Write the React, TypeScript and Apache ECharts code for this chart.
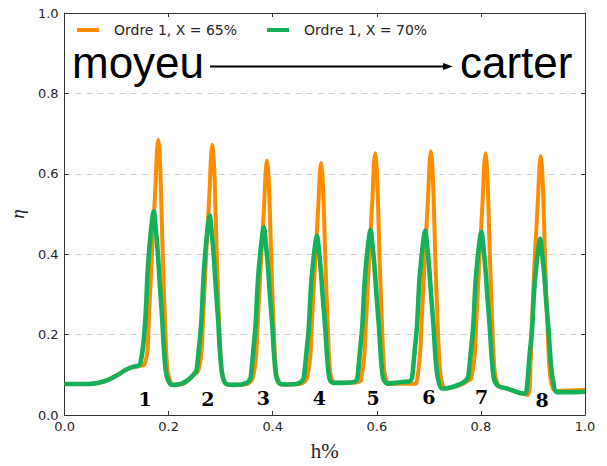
import React, { useEffect, useRef } from "react";
import * as echarts from "echarts";

const seriesNames = ["Ordre 1, X = 65%", "Ordre 1, X = 70%"];
const seriesColors = ["#ff8c00", "#17b05a"];

const orange65: number[][] = [
  [0, 0.077], [0.02, 0.077], [0.047, 0.077], [0.065, 0.08], [0.085, 0.088], [0.1, 0.098], [0.117, 0.112], [0.13, 0.119], [0.143, 0.122],
  [0.1523, 0.124], [0.159, 0.158], [0.162, 0.24], [0.1683, 0.41], [0.1746, 0.57], [0.1775, 0.655], [0.18, 0.685], [0.1825, 0.655], [0.185, 0.57], [0.1883, 0.41], [0.1928, 0.24], [0.1973, 0.118], [0.2036, 0.082], [0.21, 0.075],
  [0.22, 0.076], [0.232, 0.08], [0.242, 0.092], [0.25, 0.103],
  [0.2563, 0.108], [0.263, 0.155], [0.266, 0.235], [0.2723, 0.403], [0.2786, 0.558], [0.2815, 0.645], [0.284, 0.672], [0.2865, 0.64], [0.289, 0.558], [0.2923, 0.403], [0.2968, 0.235], [0.3013, 0.115], [0.3076, 0.082], [0.314, 0.076],
  [0.33, 0.075], [0.345, 0.076], [0.355, 0.08],
  [0.3613, 0.09], [0.368, 0.146], [0.371, 0.222], [0.3773, 0.38], [0.3836, 0.525], [0.3865, 0.608], [0.389, 0.633], [0.3915, 0.602], [0.394, 0.525], [0.3973, 0.38], [0.4018, 0.222], [0.4063, 0.108], [0.4126, 0.08], [0.419, 0.076],
  [0.435, 0.076], [0.45, 0.077], [0.458, 0.08],
  [0.4653, 0.09], [0.472, 0.144], [0.475, 0.22], [0.4813, 0.376], [0.4876, 0.52], [0.4905, 0.602], [0.493, 0.627], [0.4955, 0.596], [0.498, 0.52], [0.5013, 0.376], [0.5058, 0.22], [0.5103, 0.107], [0.5166, 0.082], [0.523, 0.08],
  [0.54, 0.08], [0.555, 0.081], [0.565, 0.082],
  [0.5693, 0.086], [0.576, 0.15], [0.579, 0.228], [0.5853, 0.39], [0.5916, 0.54], [0.5945, 0.625], [0.597, 0.651], [0.5995, 0.618], [0.602, 0.54], [0.6053, 0.39], [0.6098, 0.228], [0.6143, 0.11], [0.6206, 0.08], [0.627, 0.077],
  [0.645, 0.078], [0.66, 0.078], [0.672, 0.078],
  [0.6763, 0.08], [0.683, 0.15], [0.686, 0.23], [0.6923, 0.394], [0.6986, 0.545], [0.7015, 0.63], [0.704, 0.656], [0.7065, 0.623], [0.709, 0.545], [0.7123, 0.394], [0.7168, 0.23], [0.7213, 0.11], [0.7276, 0.07], [0.734, 0.066],
  [0.75, 0.07], [0.765, 0.077], [0.775, 0.085],
  [0.7813, 0.09], [0.788, 0.15], [0.791, 0.228], [0.7973, 0.39], [0.8036, 0.54], [0.8065, 0.625], [0.809, 0.651], [0.8115, 0.618], [0.814, 0.54], [0.8173, 0.39], [0.8218, 0.228], [0.8263, 0.11], [0.8326, 0.075], [0.84, 0.069],
  [0.86, 0.062], [0.875, 0.055], [0.8905, 0.05],
  [0.8955, 0.13], [0.898, 0.225], [0.9033, 0.386], [0.9096, 0.535], [0.9125, 0.618], [0.915, 0.644], [0.9175, 0.612], [0.92, 0.535], [0.9233, 0.386], [0.9278, 0.225], [0.9323, 0.108], [0.9386, 0.065], [0.945, 0.06],
  [0.97, 0.061], [1.0, 0.063],
];

const green70: number[][] = [
  [0, 0.077], [0.02, 0.077], [0.047, 0.077], [0.065, 0.08], [0.085, 0.088], [0.1, 0.098], [0.117, 0.112], [0.13, 0.119], [0.1428, 0.123],
  [0.146, 0.13], [0.151, 0.172], [0.1555, 0.243], [0.16, 0.365], [0.165, 0.446], [0.1694, 0.497], [0.1714, 0.507], [0.1746, 0.472], [0.179, 0.406], [0.183, 0.325], [0.1874, 0.243], [0.191, 0.162], [0.1956, 0.101], [0.2034, 0.077],
  [0.212, 0.075], [0.225, 0.078], [0.238, 0.088], [0.2504, 0.104],
  [0.2536, 0.112], [0.2585, 0.169], [0.2631, 0.238], [0.2676, 0.357], [0.2726, 0.436], [0.277, 0.486], [0.279, 0.496], [0.2822, 0.461], [0.2866, 0.397], [0.2906, 0.317], [0.295, 0.238], [0.2986, 0.159], [0.3032, 0.099], [0.311, 0.077],
  [0.325, 0.075], [0.34, 0.076], [0.35, 0.08], [0.3544, 0.085],
  [0.3576, 0.093], [0.3625, 0.158], [0.3671, 0.224], [0.3716, 0.336], [0.3766, 0.41], [0.381, 0.457], [0.383, 0.466], [0.3862, 0.433], [0.3906, 0.373], [0.3946, 0.298], [0.399, 0.224], [0.4026, 0.149], [0.4072, 0.093], [0.415, 0.077],
  [0.43, 0.076], [0.445, 0.077], [0.452, 0.08], [0.4564, 0.085],
  [0.4596, 0.092], [0.4645, 0.152], [0.4691, 0.214], [0.4736, 0.321], [0.4786, 0.392], [0.483, 0.437], [0.485, 0.446], [0.4882, 0.415], [0.4926, 0.357], [0.4966, 0.285], [0.501, 0.214], [0.5046, 0.143], [0.5092, 0.089], [0.517, 0.08],
  [0.535, 0.08], [0.55, 0.081], [0.556, 0.082], [0.5594, 0.084],
  [0.5626, 0.091], [0.5675, 0.156], [0.5721, 0.221], [0.5766, 0.331], [0.5816, 0.405], [0.586, 0.451], [0.588, 0.46], [0.5912, 0.428], [0.5956, 0.368], [0.5996, 0.294], [0.604, 0.221], [0.6076, 0.147], [0.6122, 0.092], [0.62, 0.078],
  [0.635, 0.08], [0.65, 0.082], [0.66, 0.083], [0.6644, 0.085],
  [0.6676, 0.092], [0.6725, 0.156], [0.6771, 0.22], [0.6816, 0.33], [0.6866, 0.403], [0.691, 0.449], [0.693, 0.458], [0.6962, 0.426], [0.7006, 0.366], [0.7046, 0.293], [0.709, 0.22], [0.7126, 0.147], [0.7172, 0.092], [0.725, 0.066],
  [0.74, 0.068], [0.755, 0.074], [0.765, 0.08], [0.7724, 0.088],
  [0.7756, 0.095], [0.7805, 0.155], [0.7851, 0.219], [0.7896, 0.328], [0.7946, 0.401], [0.799, 0.447], [0.801, 0.456], [0.8042, 0.424], [0.8086, 0.365], [0.8126, 0.292], [0.817, 0.219], [0.8206, 0.146], [0.8252, 0.091], [0.833, 0.072],
  [0.85, 0.066], [0.865, 0.059], [0.877, 0.054], [0.8854, 0.053],
  [0.8886, 0.07], [0.8935, 0.149], [0.8981, 0.21], [0.9026, 0.315], [0.9076, 0.385], [0.912, 0.429], [0.914, 0.438], [0.9172, 0.407], [0.9216, 0.35], [0.9256, 0.28], [0.93, 0.21], [0.9336, 0.14], [0.9382, 0.088], [0.946, 0.057],
  [0.97, 0.057], [1.0, 0.058],
];

const peakLabels = ["1", "2", "3", "4", "5", "6", "7", "8"];
const peakLabelPos: number[][] = [
  [0.1549, 0.0405], [0.2753, 0.0405], [0.3818, 0.043], [0.4895, 0.042],
  [0.5927, 0.042], [0.6998, 0.044], [0.8011, 0.045], [0.9178, 0.038],
];

const xTickValues = [0, 0.2, 0.4, 0.6, 0.8, 1.0];
const yTickValues = [0, 0.2, 0.4, 0.6, 0.8, 1.0];
const xAxisTitle = "h%";
const yAxisTitle = "\u03b7";
const leftWord = "moyeu";
const rightWord = "carter";

export default function App() {
  const ref = useRef<HTMLDivElement>(null);
  useEffect(() => {
    if (!ref.current) return;
    const chart = echarts.init(ref.current, null, { renderer: "svg" });
    const axisColor = "#333";
    const tickFont = { fontFamily: "DejaVu Sans", fontSize: 13, color: "#262626" };
    const fmt = (v: number) => v.toFixed(1);
    const xCommon = {
      type: "value" as const,
      min: xTickValues[0],
      max: xTickValues[xTickValues.length - 1],
      interval: 0.2,
      axisLine: { show: true, onZero: false, lineStyle: { color: axisColor, width: 1 } },
      axisTick: { show: true, inside: true, length: 4, lineStyle: { color: axisColor } },
      splitLine: { show: false },
    };
    const yCommon = {
      type: "value" as const,
      min: yTickValues[0],
      max: yTickValues[yTickValues.length - 1],
      interval: 0.2,
      axisLine: { show: true, onZero: false, lineStyle: { color: axisColor, width: 1 } },
      axisTick: { show: true, inside: true, length: 4, lineStyle: { color: axisColor } },
    };
    chart.setOption({
      animation: false,
      backgroundColor: "#fff",
      grid: { left: 62, right: 22, top: 13, bottom: 48, containLabel: false },
      legend: {
        data: seriesNames,
        left: 77,
        top: 23,
        padding: 0,
        itemWidth: 22,
        itemHeight: 4,
        itemGap: 30,
        icon: "rect",
        textStyle: { fontFamily: "DejaVu Sans", fontSize: 14, color: "#262626", padding: [0, 0, 0, 10] },
      },
      xAxis: [
        {
          ...xCommon,
          position: "bottom",
          name: xAxisTitle,
          nameLocation: "middle",
          nameGap: 25,
          nameTextStyle: { fontFamily: "Liberation Serif", fontSize: 21, color: "#262626" },
          axisLabel: { ...tickFont, margin: 5, formatter: fmt },
        },
        {
          ...xCommon,
          position: "top",
          axisLabel: { show: false },
        },
      ],
      yAxis: [
        {
          ...yCommon,
          position: "left",
          name: yAxisTitle,
          nameLocation: "middle",
          nameRotate: 90,
          nameGap: 34,
          nameTextStyle: { fontFamily: "Liberation Serif", fontStyle: "italic", fontSize: 19, color: "#262626" },
          axisLabel: { ...tickFont, margin: 6, formatter: fmt },
          splitLine: { show: true, lineStyle: { color: "#cfcfcf", type: [6, 5], width: 1 } },
        },
        {
          ...yCommon,
          position: "right",
          axisLabel: { show: false },
          splitLine: { show: false },
        },
      ],
      series: [
        {
          name: seriesNames[0],
          type: "line",
          data: orange65,
          showSymbol: false,
          symbol: "none",
          smooth: 0.3,
          lineStyle: { color: seriesColors[0], width: 4, join: "round" },
          itemStyle: { color: seriesColors[0] },
          z: 2,
        },
        {
          name: seriesNames[1],
          type: "line",
          data: green70,
          showSymbol: false,
          symbol: "none",
          smooth: 0.3,
          lineStyle: { color: seriesColors[1], width: 4.6, join: "round" },
          itemStyle: { color: seriesColors[1] },
          z: 3,
        },
        {
          name: "peaks",
          type: "scatter",
          data: peakLabelPos.map((p, i) => ({ value: p, name: peakLabels[i] })),
          symbolSize: 2,
          itemStyle: { color: "rgba(255,255,255,0)" },
          silent: true,
          z: 4,
          label: {
            show: true,
            position: "inside",
            formatter: (p: any) => p.name,
            fontFamily: "DejaVu Serif",
            fontWeight: "bold",
            fontSize: 19,
            color: "#000000",
            opacity: 1,
            textBorderWidth: 0,
          },
        },
      ],
      graphic: [
        {
          type: "text",
          x: 72,
          y: 62,
          style: { text: leftWord, fontFamily: "Liberation Sans", fontSize: 44, fill: "#000", align: "left", verticalAlign: "middle" },
          z: 10,
        },
        {
          type: "text",
          x: 460,
          y: 62,
          style: { text: rightWord, fontFamily: "Liberation Sans", fontSize: 44, fill: "#000", align: "left", verticalAlign: "middle" },
          z: 10,
        },
        {
          type: "line",
          shape: { x1: 210, y1: 66.5, x2: 445, y2: 66.5 },
          style: { stroke: "#000", lineWidth: 2 },
          z: 10,
        },
        {
          type: "polygon",
          shape: { points: [[453, 66.5], [443, 63], [443, 70]] },
          style: { fill: "#000" },
          z: 10,
        },
      ],
    });
    return () => chart.dispose();
  }, []);
  return <div ref={ref} style={{ position: "fixed", left: 0, top: 0, width: 607, height: 466 }} />;
}
